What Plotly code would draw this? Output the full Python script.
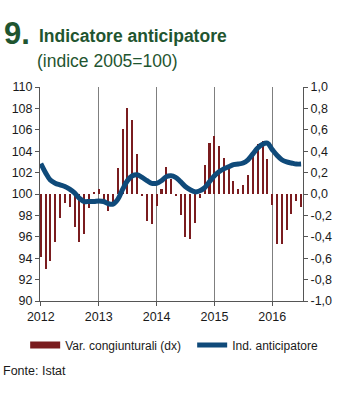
import pandas as pd
import plotly.graph_objects as go

# ---- data ----
months = pd.date_range("2012-01-01", "2016-07-01", freq="MS")

var_cong = [
    -0.59, -0.70, -0.63, -0.45, -0.22, -0.08, -0.12, -0.31, -0.45, -0.37, -0.13, 0.02,
    0.05, -0.09, -0.16, -0.09, 0.24, 0.61, 0.80, 0.69, 0.37, -0.01, -0.25, -0.28,
    -0.11, 0.05, 0.25, 0.14, -0.01, -0.20, -0.40, -0.42, -0.27, -0.04, 0.27, 0.48,
    0.54, 0.45, 0.34, 0.24, 0.12, 0.05, 0.08, 0.18, 0.37, 0.47, 0.50, 0.33,
    -0.10, -0.47, -0.47, -0.34, -0.19, -0.07, -0.12,
]

ind_antic = [
    102.85, 101.97, 101.3, 101.0, 100.85, 100.7, 100.45, 100.1, 99.6, 99.3, 99.3, 99.3,
    99.35, 99.3, 99.1, 99.05, 99.5, 100.45, 101.25, 101.7, 101.8, 101.55, 101.25, 101.0,
    101.0, 101.25, 101.6, 101.7, 101.55, 101.15, 100.7, 100.4, 100.2, 100.3, 100.6, 101.15,
    101.7, 102.1, 102.35, 102.55, 102.75, 102.8, 102.9, 103.2, 103.75, 104.3, 104.65, 104.75,
    104.15, 103.6, 103.2, 103.0, 102.9, 102.8, 102.8,
]

year_ticks = ["2012-01-01", "2013-01-01", "2014-01-01", "2015-01-01", "2016-01-01"]
year_labels = ["2012", "2013", "2014", "2015", "2016"]

left_vals = list(range(90, 111, 2))
right_vals = [1.0, 0.8, 0.6, 0.4, 0.2, 0.0, -0.2, -0.4, -0.6, -0.8, -1.0]
right_text = ["1,0", "0,8", "0,6", "0,4", "0,2", "0,0", "-0,2", "-0,4", "-0,6", "-0,8", "-1,0"]

# ---- styles ----
FONT = "Liberation Sans, Arial, sans-serif"
GREEN = "#1f5530"
RED = "#7a1c1f"
BLUE = "#0f4a7a"
AX = "#555555"

W, H = 350, 405
L, R, T, B = 37, 47, 87, 104


def px(xp):
    return (xp - L) / (W - L - R)


def py(yp):
    return (H - B - yp) / (H - T - B)


fig = go.Figure()

fig.add_trace(go.Bar(
    x=months, y=var_cong, yaxis="y", marker_color=RED, marker_line_width=0,
    width=13 * 86400000, showlegend=False, name="Var. congiunturali (dx)",
))
fig.add_trace(go.Scatter(
    x=[None], y=[None], mode="lines", yaxis="y",
    line=dict(color=RED, width=7), name="Var. congiunturali (dx)",
    legendwidth=122,
))
fig.add_trace(go.Scatter(
    x=months, y=ind_antic, yaxis="y2", mode="lines",
    line=dict(color=BLUE, width=5, shape="spline", smoothing=1),
    name="Ind. anticipatore", legendwidth=88,
))

fig.update_layout(
    width=W, height=H,
    margin=dict(l=L, r=R, t=T, b=B),
    paper_bgcolor="white", plot_bgcolor="white",
    font=dict(family=FONT, size=12, color="#1a1a1a"),
    bargap=0,
    xaxis=dict(
        type="date", range=["2011-12-27", "2016-07-13"],
        tickvals=year_ticks, ticktext=year_labels,
        showgrid=True, gridcolor="#7f7f7f", gridwidth=1,
        showline=True, linecolor=AX, linewidth=1,
        ticks="outside", ticklen=4, tickcolor=AX,
        tickfont=dict(size=12.5), zeroline=False,
    ),
    yaxis=dict(
        side="right", range=[-1, 1], tickvals=right_vals, ticktext=right_text,
        showgrid=False, zeroline=False, showline=True, linecolor=AX, linewidth=1,
        ticks="outside", ticklen=4, tickcolor=AX, tickfont=dict(size=12.5),
    ),
    yaxis2=dict(
        side="left", overlaying="y", range=[90, 110], tickvals=left_vals,
        showgrid=False, zeroline=False, showline=True, linecolor=AX, linewidth=1,
        ticks="outside", ticklen=4, tickcolor=AX, tickfont=dict(size=12.5),
    ),
    legend=dict(
        orientation="h", x=px(22), y=py(345), xanchor="left", yanchor="middle",
        font=dict(size=12), bgcolor="rgba(0,0,0,0)", itemwidth=30,
    ),
    annotations=[
        dict(text="<b>9.</b>", x=px(-1), y=py(33), xref="paper", yref="paper",
             xanchor="left", yanchor="middle", showarrow=False,
             font=dict(size=31, color=GREEN)),
        dict(text="<b>Indicatore anticipatore</b>", x=px(34), y=py(36.5), xref="paper", yref="paper",
             xanchor="left", yanchor="middle", showarrow=False,
             font=dict(size=17.5, color=GREEN)),
        dict(text="(indice 2005=100)", x=px(32), y=py(61), xref="paper", yref="paper",
             xanchor="left", yanchor="middle", showarrow=False,
             font=dict(size=17.5, color=GREEN)),
        dict(text="Fonte: Istat", x=px(-2), y=py(371), xref="paper", yref="paper",
             xanchor="left", yanchor="middle", showarrow=False,
             font=dict(size=12.5, color="#1a1a1a")),
    ],
)

fig.write_html("out.html")
